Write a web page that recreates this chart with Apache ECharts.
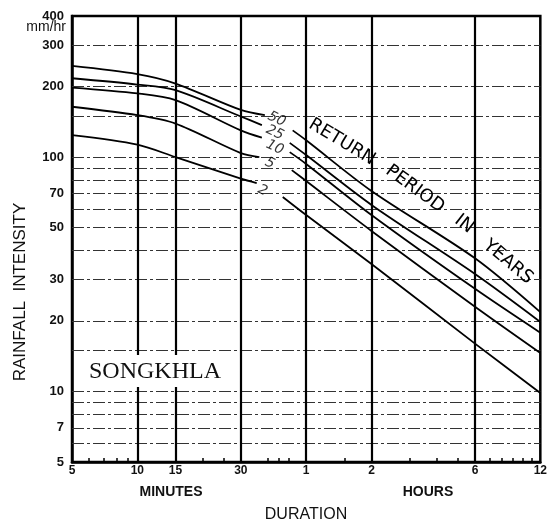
<!DOCTYPE html>
<html>
<head>
<meta charset="utf-8">
<script src="https://cdn.jsdelivr.net/npm/echarts@6/dist/echarts.min.js"></script>
<style>
  html, body { margin: 0; padding: 0; background: #fff; }
  #chart { width: 550px; height: 523px; }
</style>
</head>
<body>
<div id="chart"></div>
<script>
// durations in minutes, intensity in mm/hr; '-' leaves the gap where the curve label sits
const rp2  = [[5, 124], [10, 113], [15, 100], [30, 81],  [35.5, 77.5], [41, '-'], [46.8, 67.6], [60, 56.6], [120, 35],   [360, 16],   [720, 9.85]];
const rp5  = [[5, 164], [10, 151], [15, 139], [30, 104], [36.5, 100],  [44, '-'], [51.5, 88],   [60, 79],   [120, 48.4], [360, 23],   [720, 14.6]];
const rp10 = [[5, 198], [10, 187], [15, 175], [30, 130], [37.5, 121],  [44, '-'], [50.4, 105],  [60, 93.5], [120, 56.6], [360, 27.4], [720, 17.8]];
const rp25 = [[5, 217], [10, 204], [15, 193], [30, 149], [37.5, 137],  [44, '-'], [50.4, 115],  [60, 102],  [120, 62.5], [360, 31.7], [720, 19.8]];
const rp50 = [[5, 245], [10, 226], [15, 206], [30, 159], [38.7, 151],  [45, '-'], [52, 130],    [60, 118],  [120, 71.7], [360, 37],   [720, 21.8]];

const periodNames = ['2', '5', '10', '25', '50'];
const periodLabelAt = [[37.8, 72], [40.8, 94], [43, 110], [43, 127], [43.9, 145]];

const yLabelValues = [5, 7, 10, 20, 30, 50, 70, 100, 200, 300, 400];
const yGridValues = [6, 7, 8, 9, 10, 15, 20, 30, 40, 50, 60, 70, 80, 90, 100, 150, 200, 300];
const xLabelValues = [5, 10, 15, 30, 60, 120, 360, 720];
const xLabelText = ['5', '10', '15', '30', '1', '2', '6', '12'];
const xGridValues = [10, 15, 30, 60, 120, 360];
const xMinorTicks = [6, 7, 8, 9, 20, 25, 40, 45, 50, 90, 180, 240, 300, 420, 480, 540, 600, 660];

const chart = echarts.init(document.getElementById('chart'));

function nearest(list, v) {
  let best = 0;
  for (let i = 1; i < list.length; i++) {
    if (Math.abs(Math.log(list[i] / v)) < Math.abs(Math.log(list[best] / v))) best = i;
  }
  return best;
}

function curve(data) {
  return {
    type: 'line',
    data: data,
    smooth: 0.3,
    symbol: 'none',
    connectNulls: false,
    silent: true,
    z: 5,
    lineStyle: { color: '#000', width: 1.8 }
  };
}

const tickFont = { color: '#111', fontSize: 12, fontWeight: 'bold', fontFamily: 'Liberation Sans, Arial, sans-serif' };

const gridLines = yGridValues.map(v => ({
  yAxis: v,
  lineStyle: { type: [12, 3, 3, 3], width: 1, color: '#333' }
})).concat(xGridValues.map(v => ({
  xAxis: v,
  lineStyle: { type: 'solid', width: 2.2, color: '#000' }
})));

const series = [rp2, rp5, rp10, rp25, rp50].map(curve);
series[0].markLine = {
  silent: true,
  symbol: 'none',
  animation: false,
  label: { show: false },
  data: gridLines
};
series.push({
  type: 'scatter',
  silent: true,
  symbolSize: 0,
  z: 6,
  data: periodLabelAt.map((p, i) => ({ value: p, name: periodNames[i] })),
  label: {
    show: true,
    position: 'inside',
    formatter: p => p.name,
    rotate: -25,
    color: '#000',
    fontSize: 14,
    fontStyle: 'italic',
    fontFamily: 'DejaVu Sans, sans-serif'
  }
});

const wordFont = '18px "DejaVu Sans", sans-serif';
function word(text, x, y, deg) {
  return {
    type: 'text', x: x, y: y, rotation: -deg * Math.PI / 180, z: 100,
    style: { text: text, font: wordFont, fill: '#000', align: 'center', verticalAlign: 'middle' }
  };
}

chart.setOption({
  animation: false,
  backgroundColor: '#fff',
  grid: {
    left: 72, right: 9, top: 16, bottom: 61,
    show: true, borderColor: '#000', borderWidth: 2.5, backgroundColor: 'transparent'
  },
  xAxis: {
    type: 'log', logBase: 10, min: 5, max: 720,
    axisLine: { show: true, lineStyle: { color: '#000', width: 2.5 } },
    axisTick: { show: true, inside: true, length: 4, customValues: xMinorTicks, lineStyle: { color: '#000', width: 1.5 } },
    splitLine: { show: false },
    axisLabel: {
      customValues: xLabelValues,
      margin: 3,
      formatter: v => xLabelText[nearest(xLabelValues, v)],
      ...tickFont
    }
  },
  yAxis: {
    type: 'log', logBase: 10, min: 5, max: 400,
    axisLine: { show: true, lineStyle: { color: '#000', width: 2.5 } },
    axisTick: { show: false },
    splitLine: { show: false },
    axisLabel: {
      customValues: yLabelValues,
      margin: 8,
      formatter: v => String(yLabelValues[nearest(yLabelValues, v)]),
      ...tickFont,
      fontSize: 13
    }
  },
  series: series,
  graphic: [
    { type: 'rect', shape: { x: 76, y: 355, width: 162, height: 32 }, style: { fill: '#fff' }, z: 90 },
    { type: 'text', x: 155, y: 372, z: 100,
      style: { text: 'SONGKHLA', font: '24px "Liberation Serif", serif', fill: '#111', align: 'center', verticalAlign: 'middle' } },
    { type: 'text', x: 66, y: 27, z: 100,
      style: { text: 'mm/hr', font: '14px "Liberation Sans", sans-serif', fill: '#111', align: 'right', verticalAlign: 'middle' } },
    { type: 'text', x: 20, y: 292, rotation: Math.PI / 2, z: 100,
      style: { text: 'RAINFALL  INTENSITY', font: '17px "Liberation Sans", sans-serif', fill: '#111', align: 'center', verticalAlign: 'middle' } },
    { type: 'text', x: 171, y: 492, z: 100,
      style: { text: 'MINUTES', font: 'bold 14px "Liberation Sans", sans-serif', fill: '#111', align: 'center', verticalAlign: 'middle' } },
    { type: 'text', x: 428, y: 492, z: 100,
      style: { text: 'HOURS', font: 'bold 14px "Liberation Sans", sans-serif', fill: '#111', align: 'center', verticalAlign: 'middle' } },
    { type: 'text', x: 306, y: 515, z: 100,
      style: { text: 'DURATION', font: '16px "Liberation Sans", sans-serif', fill: '#111', align: 'center', verticalAlign: 'middle' } },
    word('RETURN', 342, 142, 31),
    word('PERIOD', 415, 189, 36),
    word('IN', 464, 224, 38),
    word('YEARS', 508, 262, 40)
  ]
});
</script>
</body>
</html>
